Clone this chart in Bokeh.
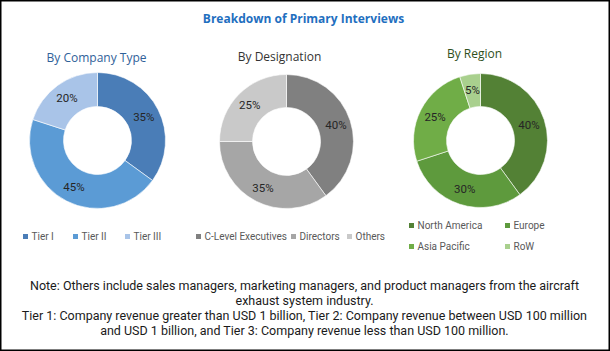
import numpy as np
from bokeh.plotting import figure
from bokeh.models import ColumnDataSource, Range1d, Label
from bokeh.core.properties import value
from bokeh.embed import file_html
from bokeh.resources import INLINE

# ---- data ----
title_text = "Breakdown of Primary Interviews"
company_title = "By Company Type"
company_labels = ["Tier I", "Tier II", "Tier III"]
company_values = [35, 45, 20]
designation_title = "By Designation"
designation_labels = ["C-Level Executives", "Directors", "Others"]
designation_values = [40, 35, 25]
region_title = "By Region"
region_labels = ["North America", "Europe", "Asia Pacific", "RoW"]
region_values = [40, 30, 25, 5]
note_lines = [
    "Note: Others include sales managers, marketing managers, and product managers from the aircraft",
    "exhaust system industry.",
    "Tier 1: Company revenue greater than USD 1 billion, Tier 2: Company revenue between USD 100 million",
    "and USD 1 billion, and Tier 3: Company revenue less than USD 100 million.",
]

# ---- styles ----
W, H = 610, 351
company_colors = ["#4A7DB7", "#5B9BD5", "#A9C4E8"]
designation_colors = ["#808080", "#A6A6A6", "#C9C9C9"]
region_colors = ["#538135", "#5E9A3D", "#70AD47", "#A9D08E"]
NARROW = "Roboto"
SANS = "Open Sans"

p = figure(width=W, height=H, x_range=Range1d(0, W), y_range=Range1d(0, H),
           output_backend="svg", toolbar_location=None, min_border=0)
p.axis.visible = False
p.grid.visible = False
p.outline_line_color = "black"
p.outline_line_width = 2
p.background_fill_color = "white"
p.border_fill_color = "white"


def py(y):
    return H - y


def donut(cx, cy, vals, colors, r_in, r_out, r_lab):
    v = np.array(vals, dtype=float)
    frac = v / v.sum()
    cum = np.concatenate([[0], np.cumsum(frac)])
    start = np.pi / 2 - cum[:-1] * 2 * np.pi
    end = np.pi / 2 - cum[1:] * 2 * np.pi
    mid = np.pi / 2 - (cum[:-1] + cum[1:]) / 2 * 2 * np.pi
    src = ColumnDataSource(dict(start=start, end=end, color=colors,
                                lx=cx + r_lab * np.cos(mid), ly=py(cy) + r_lab * np.sin(mid),
                                txt=[f"{int(x)}%" for x in vals]))
    p.annular_wedge(x=cx, y=py(cy), inner_radius=r_in, outer_radius=r_out,
                    inner_radius_units="screen", outer_radius_units="screen",
                    start_angle="start", end_angle="end", direction="clock",
                    fill_color="color", line_color="white", line_width=0.6, source=src)
    p.text(x="lx", y="ly", text="txt", source=src, text_align="center", text_baseline="middle",
           text_font=value(NARROW), text_font_size="11.5px", text_color="#262626")


donut(97, 140, company_values, company_colors, 34, 68, 52)
donut(286, 141, designation_values, designation_colors, 34, 67, 52)
donut(480, 140, region_values, region_colors, 34, 67, 51)

# titles
p.add_layout(Label(x=303, y=py(18), text=title_text, text_align="center", text_baseline="middle",
                   text_font=SANS, text_font_style="bold", text_font_size="12px", text_color="#1F6FBF"))
p.add_layout(Label(x=96, y=py(57), text=company_title, text_align="center", text_baseline="middle",
                   text_font=SANS, text_font_size="12px", text_color="#2F6199"))
p.add_layout(Label(x=279, y=py(56), text=designation_title, text_align="center", text_baseline="middle",
                   text_font=SANS, text_font_size="12px", text_color="#333333"))
p.add_layout(Label(x=474, y=py(53), text=region_title, text_align="center", text_baseline="middle",
                   text_font=SANS, text_font_size="12px", text_color="#2F4F1C"))

# legends
def legend(items, colors, xs, ys):
    src = ColumnDataSource(dict(x=xs, y=[py(y) for y in ys], color=colors,
                                tx=[x + 6 for x in xs], label=items))
    p.scatter(x="x", y="y", marker="square", size=5, fill_color="color", line_color=None, source=src)
    p.text(x="tx", y="y", text="label", source=src, text_baseline="middle",
           text_font=value(NARROW), text_font_size="10px", text_color="#595959")


legend(company_labels, company_colors, [25, 75, 127], [236, 236, 236])
legend(designation_labels, designation_colors, [198, 293, 349], [236, 236, 236])
legend(region_labels, region_colors, [411, 507, 411, 507], [225, 225, 246, 246])

# notes
for i, line in enumerate(note_lines):
    p.add_layout(Label(x=304, y=py(285 + i * 15), text=line, text_align="center", text_baseline="middle",
                       text_font=NARROW, text_font_size="12.5px", text_color="#1A1A1A"))

open("out.html", "w").write(file_html(p, INLINE))
